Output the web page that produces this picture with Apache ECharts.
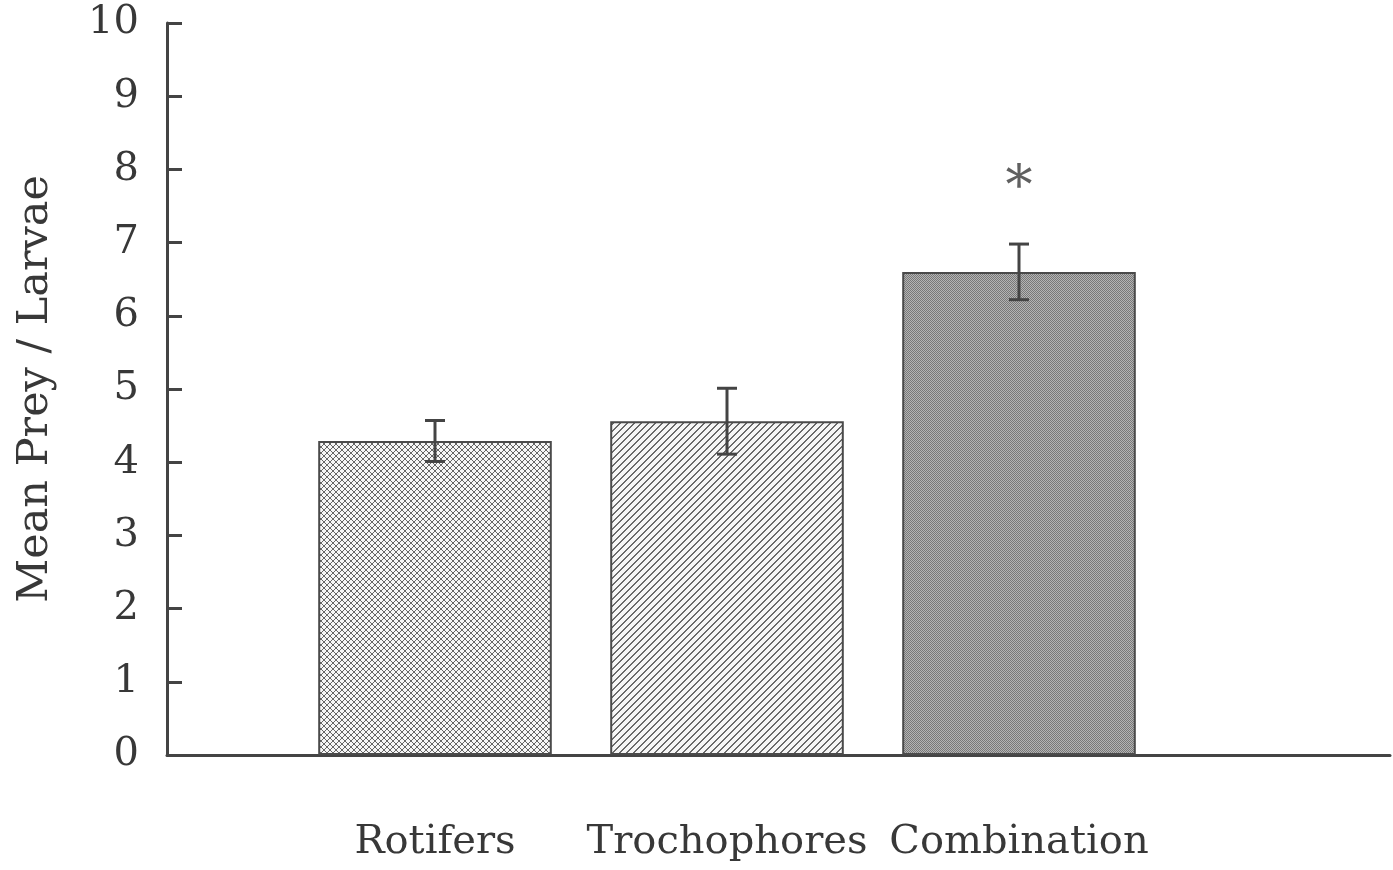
<!DOCTYPE html>
<html>
<head>
<meta charset="utf-8">
<script src="https://cdn.jsdelivr.net/npm/echarts@6/dist/echarts.min.js"></script>
<style>
html,body{margin:0;padding:0;background:#fff;}
#main{width:1393px;height:870px;}
</style>
</head>
<body>
<div id="main"></div>
<script>
// data
var categories = ['Rotifers', 'Trochophores', 'Combination'];
var means = [4.29, 4.56, 6.6];
var errs = [0.28, 0.45, 0.38];
var starIndex = 2;
var starValue = 7.72;
var yTicks = [0, 10, 1];

// fill patterns
function makePattern(size, bg, fg, pix){
    var c = document.createElement('canvas');
    c.width = size; c.height = size;
    var ctx = c.getContext('2d');
    ctx.fillStyle = bg;
    ctx.fillRect(0, 0, size, size);
    ctx.fillStyle = fg;
    for (var i = 0; i < pix.length; i++) {
        ctx.fillRect(pix[i][0], pix[i][1], 1, 1);
    }
    return c;
}
var crossPix = [], slashPix = [], dotPix = [];
for (var i = 0; i < 6; i++) { crossPix.push([i, i]); crossPix.push([i, 5 - i]); }
for (var i = 0; i < 7; i++) { slashPix.push([i, 6 - i]); slashPix.push([(i + 1) % 7, 6 - i]); }
for (var i = 0; i < 4; i++) for (var j = 0; j < 4; j++) if ((i + j) % 2 == 0) dotPix.push([i, j]);

var fills = [
    {image: makePattern(6, '#f6f6f6', '#666666', crossPix), repeat: 'repeat'},
    {image: makePattern(7, '#f6f6f6', '#6a6a6a', slashPix), repeat: 'repeat'},
    {image: makePattern(4, '#b4b4b4', '#787878', dotPix), repeat: 'repeat'}
];

var barData = [];
var errData = [];
for (var i = 0; i < categories.length; i++) {
    barData.push({value: means[i], itemStyle: {color: fills[i]}});
    errData.push([i, means[i] - errs[i], means[i] + errs[i]]);
}

var axisColor = '#444';
var txtColor = '#383838';
var serif = 'DejaVu Serif';

var chart = echarts.init(document.getElementById('main'));
var option = {
    backgroundColor: '#fff',
    animation: false,
    grid: [
        {left: 289, width: 876, top: 23, bottom: 115},
        {left: 167, right: 3, top: 23, bottom: 115}
    ],
    xAxis: [
        {
            type: 'category',
            gridIndex: 0,
            data: categories,
            axisLine: {show: false},
            axisTick: {show: false},
            axisLabel: {interval: 0, margin: 68, fontFamily: serif, fontSize: 40, color: txtColor}
        },
        {
            type: 'value',
            gridIndex: 1,
            min: 0, max: 1,
            axisLine: {show: true, lineStyle: {color: axisColor, width: 3}},
            axisTick: {show: false},
            axisLabel: {show: false},
            splitLine: {show: false}
        }
    ],
    yAxis: [
        {
            type: 'value',
            gridIndex: 0,
            min: yTicks[0], max: yTicks[1], interval: yTicks[2],
            offset: 122,
            name: 'Mean Prey / Larvae',
            nameLocation: 'middle',
            nameGap: 110,
            nameTextStyle: {fontFamily: serif, fontSize: 43, color: txtColor},
            axisLine: {show: true, lineStyle: {color: axisColor, width: 3}},
            axisTick: {show: true, inside: true, length: 15, lineStyle: {color: axisColor, width: 3}},
            axisLabel: {margin: 28, fontFamily: serif, fontSize: 40, color: txtColor},
            splitLine: {show: false}
        },
        {
            type: 'value',
            gridIndex: 1,
            min: yTicks[0], max: yTicks[1],
            show: false
        }
    ],
    series: [
        {
            type: 'bar',
            xAxisIndex: 0, yAxisIndex: 0,
            barWidth: '80%',
            data: barData,
            itemStyle: {borderColor: '#4a4a4a', borderWidth: 2}
        },
        {
            type: 'custom',
            xAxisIndex: 0, yAxisIndex: 0,
            data: errData,
            z: 5,
            renderItem: function(params, api){
                var lo = api.coord([api.value(0), api.value(1)]);
                var hi = api.coord([api.value(0), api.value(2)]);
                var w = 10;
                var st = {stroke: axisColor, lineWidth: 3};
                return {
                    type: 'group',
                    children: [
                        {type: 'line', shape: {x1: hi[0], y1: hi[1], x2: lo[0], y2: lo[1]}, style: st},
                        {type: 'line', shape: {x1: hi[0] - w, y1: hi[1], x2: hi[0] + w, y2: hi[1]}, style: st},
                        {type: 'line', shape: {x1: lo[0] - w, y1: lo[1], x2: lo[0] + w, y2: lo[1]}, style: st}
                    ]
                };
            }
        },
        {
            type: 'scatter',
            xAxisIndex: 0, yAxisIndex: 0,
            symbolSize: 0,
            data: [[starIndex, starValue]],
            label: {
                show: true,
                position: 'inside',
                formatter: '*',
                fontFamily: serif,
                fontSize: 54,
                color: txtColor
            }
        }
    ]
};
chart.setOption(option);
</script>
</body>
</html>
